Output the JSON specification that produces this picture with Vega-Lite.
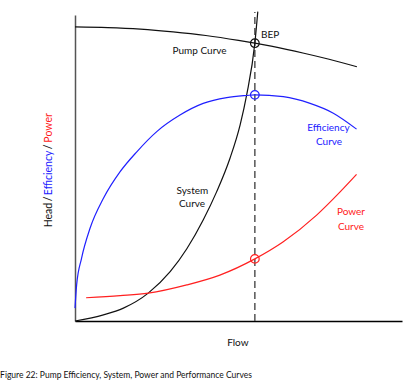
{
  "$schema": "https://vega.github.io/schema/vega-lite/v6.json",
  "width": 327,
  "height": 306,
  "autosize": "none",
  "padding": {"left": 75, "top": 15, "right": 15, "bottom": 65},
  "background": "white",
  "config": {"view": {"stroke": null}, "font": "Lato", "text": {"font": "Lato"}},
  "datasets": {
    "curves": [
      {"flow": 0, "value": 96.1, "curve": "Pump"},
      {"flow": 10, "value": 95.9, "curve": "Pump"},
      {"flow": 20, "value": 95.4, "curve": "Pump"},
      {"flow": 30, "value": 94.5, "curve": "Pump"},
      {"flow": 40, "value": 93.3, "curve": "Pump"},
      {"flow": 50, "value": 91.7, "curve": "Pump"},
      {"flow": 55, "value": 90.8, "curve": "Pump"},
      {"flow": 60, "value": 89.8, "curve": "Pump"},
      {"flow": 70, "value": 87.5, "curve": "Pump"},
      {"flow": 80, "value": 84.9, "curve": "Pump"},
      {"flow": 86.2, "value": 83.1, "curve": "Pump"},
      {"flow": 0, "value": 0, "curve": "System"},
      {"flow": 8.7, "value": 2.0, "curve": "System"},
      {"flow": 14.8, "value": 4.2, "curve": "System"},
      {"flow": 22.4, "value": 9.1, "curve": "System"},
      {"flow": 29.1, "value": 16.1, "curve": "System"},
      {"flow": 34.2, "value": 23.6, "curve": "System"},
      {"flow": 39.2, "value": 33.0, "curve": "System"},
      {"flow": 43.3, "value": 42.2, "curve": "System"},
      {"flow": 47.4, "value": 53.2, "curve": "System"},
      {"flow": 50.5, "value": 64.1, "curve": "System"},
      {"flow": 52.5, "value": 73.9, "curve": "System"},
      {"flow": 55.0, "value": 90.8, "curve": "System"},
      {"flow": 55.9, "value": 101.1, "curve": "System"},
      {"flow": 0, "value": 4.2, "curve": "Efficiency"},
      {"flow": 0.5, "value": 11.8, "curve": "Efficiency"},
      {"flow": 2.0, "value": 20.5, "curve": "Efficiency"},
      {"flow": 4.6, "value": 30.3, "curve": "Efficiency"},
      {"flow": 8.7, "value": 40.1, "curve": "Efficiency"},
      {"flow": 13.8, "value": 48.8, "curve": "Efficiency"},
      {"flow": 18.9, "value": 55.3, "curve": "Efficiency"},
      {"flow": 25.0, "value": 61.9, "curve": "Efficiency"},
      {"flow": 32.1, "value": 67.3, "curve": "Efficiency"},
      {"flow": 39.2, "value": 71.1, "curve": "Efficiency"},
      {"flow": 46.4, "value": 73.0, "curve": "Efficiency"},
      {"flow": 52.5, "value": 73.7, "curve": "Efficiency"},
      {"flow": 55, "value": 73.9, "curve": "Efficiency"},
      {"flow": 63.7, "value": 73.3, "curve": "Efficiency"},
      {"flow": 71.9, "value": 71.1, "curve": "Efficiency"},
      {"flow": 79.0, "value": 67.9, "curve": "Efficiency"},
      {"flow": 86.1, "value": 62.7, "curve": "Efficiency"},
      {"flow": 3.4, "value": 7.6, "curve": "Power"},
      {"flow": 13.8, "value": 8.3, "curve": "Power"},
      {"flow": 22.4, "value": 9.1, "curve": "Power"},
      {"flow": 34.2, "value": 11.8, "curve": "Power"},
      {"flow": 44.3, "value": 15.0, "curve": "Power"},
      {"flow": 55, "value": 20.3, "curve": "Power"},
      {"flow": 63.7, "value": 25.9, "curve": "Power"},
      {"flow": 73.9, "value": 34.6, "curve": "Power"},
      {"flow": 81.0, "value": 42.1, "curve": "Power"},
      {"flow": 86.1, "value": 47.9, "curve": "Power"}
    ],
    "markers": [
      {"flow": 55, "value": 90.8, "curve": "Pump"},
      {"flow": 55, "value": 73.9, "curve": "Efficiency"},
      {"flow": 55, "value": 20.3, "curve": "Power"}
    ],
    "labels": [
      {"x": 56.9, "y": 93.5, "text": "BEP", "curve": "Pump", "role": "left"},
      {"x": 38.1, "y": 88.3, "text": "Pump Curve", "curve": "Pump", "role": "center"},
      {"x": 77.5, "y": 63.1, "text": "Efficiency", "curve": "Efficiency", "role": "center"},
      {"x": 77.7, "y": 58.6, "text": "Curve", "curve": "Efficiency", "role": "center"},
      {"x": 35.9, "y": 42.6, "text": "System", "curve": "System", "role": "center"},
      {"x": 35.8, "y": 38.2, "text": "Curve", "curve": "System", "role": "center"},
      {"x": 84.4, "y": 35.6, "text": "Power", "curve": "Power", "role": "center"},
      {"x": 84.4, "y": 30.8, "text": "Curve", "curve": "Power", "role": "center"},
      {"x": 49.8, "y": -7.2, "text": "Flow", "curve": "Pump", "role": "center"},
      {"x": -8.0, "y": 34.6, "text": "Head", "curve": "Pump", "role": "vertical"},
      {"x": -8.0, "y": 39.9, "text": "/", "curve": "Pump", "role": "vertical"},
      {"x": -8.0, "y": 48.4, "text": "Efficiency", "curve": "Efficiency", "role": "vertical"},
      {"x": -8.0, "y": 56.9, "text": "/", "curve": "Pump", "role": "vertical"},
      {"x": -8.0, "y": 63.1, "text": "Power", "curve": "Power", "role": "vertical"},
      {"x": -22.9, "y": -17.6, "text": "Figure 22: Pump Efficiency, System, Power and Performance Curves", "curve": "Pump", "role": "caption"}
    ]
  },
  "layer": [
    {
      "data": {"values": [{"flow": 55, "lo": 0, "hi": 101}]},
      "mark": {"type": "rule", "color": "#555555", "strokeWidth": 1.5, "strokeDash": [7, 4]},
      "encoding": {
        "x": {"field": "flow", "type": "quantitative", "scale": {"domain": [0, 100], "nice": false, "zero": false},
              "axis": {"labels": false, "ticks": false, "grid": false, "title": null, "domainColor": "#000000", "domainWidth": 1.5}},
        "y": {"field": "lo", "type": "quantitative", "scale": {"domain": [0, 100], "nice": false, "zero": false},
              "axis": {"labels": false, "ticks": false, "grid": false, "title": null, "domainColor": "#555555", "domainWidth": 1.5}},
        "y2": {"field": "hi"}
      }
    },
    {
      "data": {"name": "curves"},
      "mark": {"type": "line", "interpolate": "monotone", "strokeWidth": 1.2},
      "encoding": {
        "x": {"field": "flow", "type": "quantitative"},
        "y": {"field": "value", "type": "quantitative"},
        "detail": {"field": "curve"},
        "color": {"field": "curve", "type": "nominal", "legend": null,
                  "scale": {"domain": ["Pump", "System", "Efficiency", "Power"], "range": ["#111111", "#111111", "#2020ff", "#ff2020"]}}
      }
    },
    {
      "data": {"name": "markers"},
      "mark": {"type": "point", "shape": "circle", "filled": false, "size": 75, "strokeWidth": 1.2, "opacity": 1},
      "encoding": {
        "x": {"field": "flow", "type": "quantitative"},
        "y": {"field": "value", "type": "quantitative"},
        "color": {"field": "curve", "type": "nominal", "legend": null}
      }
    },
    {
      "data": {"name": "labels"},
      "transform": [{"filter": "datum.role === 'center'"}],
      "mark": {"type": "text", "fontSize": 10, "align": "center", "baseline": "middle"},
      "encoding": {
        "x": {"field": "x", "type": "quantitative"},
        "y": {"field": "y", "type": "quantitative"},
        "text": {"field": "text"},
        "color": {"field": "curve", "type": "nominal", "legend": null}
      }
    },
    {
      "data": {"name": "labels"},
      "transform": [{"filter": "datum.role === 'left'"}],
      "mark": {"type": "text", "fontSize": 10, "align": "left", "baseline": "middle"},
      "encoding": {
        "x": {"field": "x", "type": "quantitative"},
        "y": {"field": "y", "type": "quantitative"},
        "text": {"field": "text"},
        "color": {"field": "curve", "type": "nominal", "legend": null}
      }
    },
    {
      "data": {"name": "labels"},
      "transform": [{"filter": "datum.role === 'vertical'"}],
      "mark": {"type": "text", "fontSize": 10.5, "align": "center", "baseline": "middle", "angle": -90},
      "encoding": {
        "x": {"field": "x", "type": "quantitative"},
        "y": {"field": "y", "type": "quantitative"},
        "text": {"field": "text"},
        "color": {"field": "curve", "type": "nominal", "legend": null}
      }
    },
    {
      "data": {"name": "labels"},
      "transform": [{"filter": "datum.role === 'caption'"}],
      "mark": {"type": "text", "fontSize": 8.5, "align": "left", "baseline": "middle"},
      "encoding": {
        "x": {"field": "x", "type": "quantitative"},
        "y": {"field": "y", "type": "quantitative"},
        "text": {"field": "text"},
        "color": {"field": "curve", "type": "nominal", "legend": null}
      }
    }
  ]
}
